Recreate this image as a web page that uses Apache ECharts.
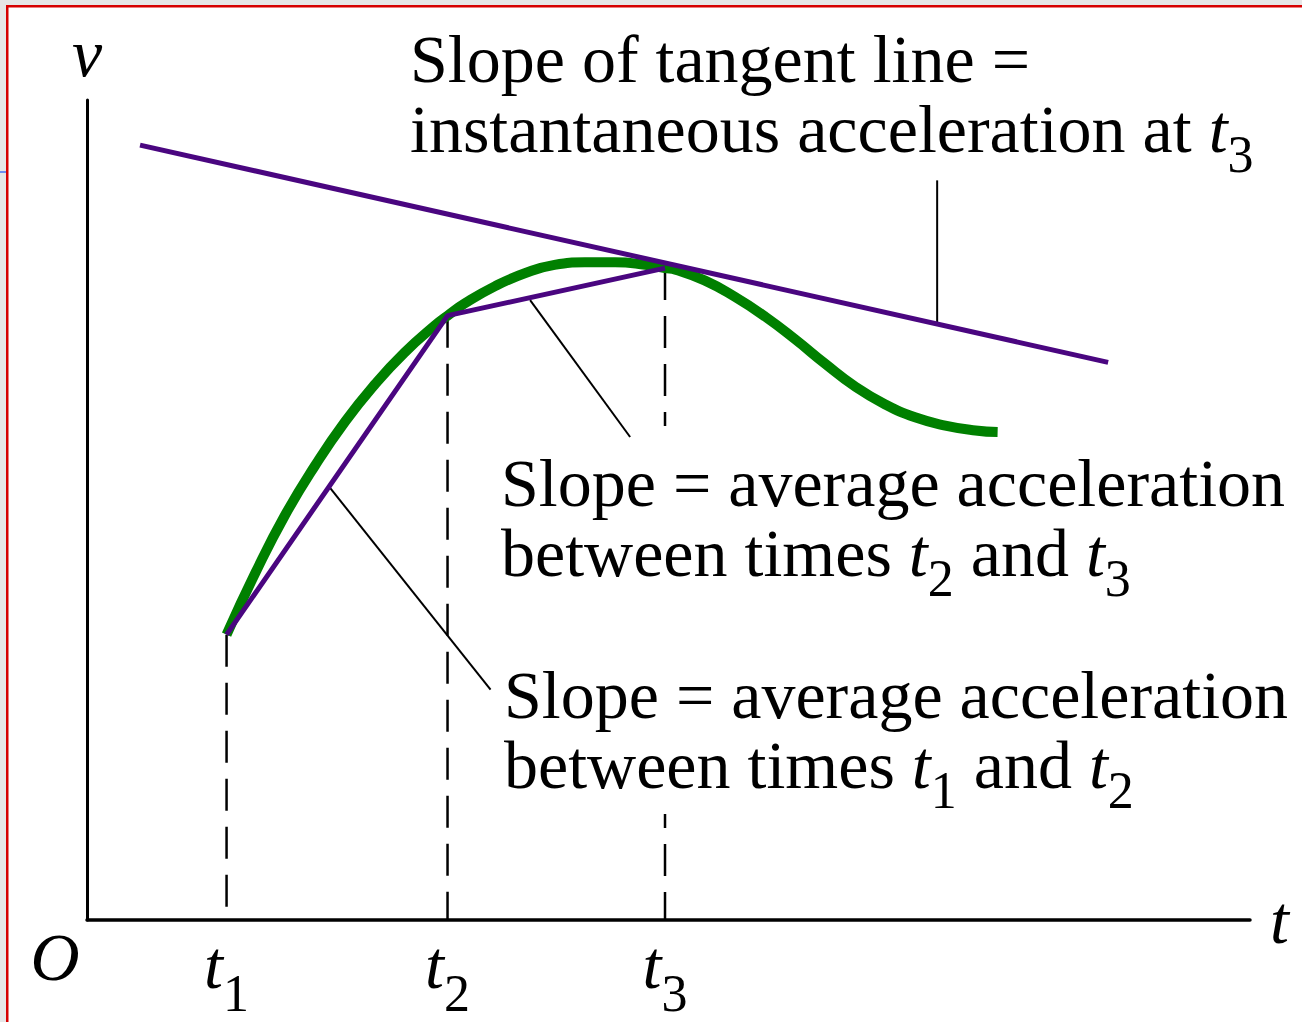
<!DOCTYPE html>
<html>
<head>
<meta charset="utf-8">
<script src="https://cdn.jsdelivr.net/npm/echarts@6/dist/echarts.min.js"></script>
<style>
  html, body { margin: 0; padding: 0; background: #fff; }
  #chart { width: 1302px; height: 1022px; }
</style>
</head>
<body>
<div id="chart"></div>
<script>
// Velocity v(t) sampled along the curve
const curveT = [1.2, 1.45, 1.7, 1.96, 2.22, 2.48, 2.73, 2.99, 3.1, 3.25, 3.51, 3.77, 4.02, 4.28,
                4.54, 4.8, 4.97, 5.06, 5.31, 5.57, 5.83, 6.09, 6.35, 6.6, 6.86, 7.12, 7.38, 7.64, 7.83];
const curveV = [3.48, 4.24, 4.93, 5.54, 6.08, 6.54, 6.92, 7.25, 7.37, 7.52, 7.73, 7.89, 7.99, 8.02,
                8.02, 7.99, 7.95, 7.93, 7.80, 7.60, 7.36, 7.08, 6.78, 6.51, 6.29, 6.13, 6.03, 5.97, 5.95];

// The three marked instants and the velocity at each
const markTimes = [1.2, 3.1, 4.97];
const markVel = [3.48, 7.37, 7.95];
const markSubs = ['1', '2', '3'];

// Tangent line to the curve at t3
const tangentT = [0.456, 8.78];
const tangentV = [9.45, 6.80];

// Leader lines joining each caption to the line it describes
const leaderTangent = [[7.31, 9.02], [7.31, 7.27]];
const leaderChord23 = [[3.81, 7.56], [4.67, 5.89]];
const leaderChord12 = [[2.09, 5.27], [3.47, 2.81]];

// Captions
const captionTangent = ['Slope of tangent line =', 'instantaneous acceleration at {it|t}{sb|3}'];
const captionChord23 = ['Slope = average acceleration', 'between times {it|t}{sb|2} and {it|t}{sb|3}'];
const captionChord12 = ['Slope = average acceleration', 'between times {it|t}{sb|1} and {it|t}{sb|2}'];

const SERIF = '"Liberation Serif", "Times New Roman", serif';
const FS = 68;
const LH = 70;
const SUB_FS = 52;
const GREEN = '#008000';
const PURPLE = '#4a0680';

const captionRich = {
  it: { fontFamily: SERIF, fontSize: FS, fontStyle: 'italic', lineHeight: LH, fill: '#000' },
  sb: { fontFamily: SERIF, fontSize: SUB_FS, lineHeight: LH, height: 20, verticalAlign: 'bottom', fill: '#000' }
};

function captionEl(lines, x, y, pad, withBg) {
  return {
    type: 'text', x: x, y: y, z: 3,
    style: {
      text: lines.join('\n'),
      fontFamily: SERIF, fontSize: FS, lineHeight: LH, fill: '#000',
      align: 'left', verticalAlign: 'top',
      rich: captionRich,
      padding: pad,
      backgroundColor: withBg ? '#fff' : 'transparent'
    }
  };
}

const curveData = curveT.map((t, i) => [t, curveV[i]]);
const chordData = markTimes.map((t, i) => [t, markVel[i]]);
const tangentData = tangentT.map((t, i) => [t, tangentV[i]]);

const guideSeries = markTimes.map((t, i) => ({
  type: 'line', z: 2, silent: true, symbol: 'none',
  data: [[t, markVel[i]], [t, 0]],
  lineStyle: { color: '#000', width: 2.5, type: [32, 16] }
}));

const leaderSeries = [leaderTangent, leaderChord23, leaderChord12].map(d => ({
  type: 'line', z: 4, silent: true, symbol: 'none', data: d,
  lineStyle: { color: '#000', width: 2 }
}));

const chart = echarts.init(document.getElementById('chart'), null, { renderer: 'svg' });

chart.setOption({
  animation: false,
  backgroundColor: '#fff',
  grid: { left: 87, right: 52, top: 100, bottom: 102, containLabel: false, outerBoundsMode: 'none' },
  xAxis: {
    type: 'value', min: 0, max: 10,
    name: 't', nameLocation: 'end', nameGap: 20,
    nameTextStyle: { fontFamily: SERIF, fontSize: FS, fontStyle: 'italic', color: '#000', lineHeight: LH },
    axisLine: { show: true, onZero: false, lineStyle: { color: '#000', width: 3.5 } },
    axisTick: { show: false },
    splitLine: { show: false },
    axisLabel: {
      customValues: markTimes,
      margin: 15,
      formatter: function (v) {
        const i = markTimes.findIndex(m => Math.abs(m - v) < 1e-6);
        return i < 0 ? '' : '{it|t}{sb|' + markSubs[i] + '}';
      },
      rich: {
        it: { fontFamily: SERIF, fontSize: FS, fontStyle: 'italic', lineHeight: 60, color: '#000' },
        sb: { fontFamily: SERIF, fontSize: SUB_FS, lineHeight: 60, height: 4, verticalAlign: 'bottom', color: '#000' }
      }
    }
  },
  yAxis: {
    type: 'value', min: 0, max: 10,
    name: 'v', nameLocation: 'end', nameGap: 12,
    nameTextStyle: { fontFamily: SERIF, fontSize: FS, fontStyle: 'italic', color: '#000', lineHeight: LH },
    axisLine: { show: true, onZero: false, lineStyle: { color: '#000', width: 3 } },
    axisTick: { show: false },
    splitLine: { show: false },
    axisLabel: { show: false }
  },
  series: [
    ...guideSeries,
    ...leaderSeries,
    {
      type: 'line', name: 'v(t)', z: 5, silent: true, symbol: 'none',
      smooth: 0.5,
      data: curveData,
      lineStyle: { color: GREEN, width: 10, cap: 'butt' }
    },
    {
      type: 'line', name: 'chords', z: 6, silent: true, symbol: 'none',
      data: chordData,
      lineStyle: { color: PURPLE, width: 5 }
    },
    {
      type: 'line', name: 'tangent', z: 6, silent: true, symbol: 'none',
      data: tangentData,
      lineStyle: { color: PURPLE, width: 5 }
    }
  ],
  graphic: {
    elements: [
      // page frame
      { type: 'rect', z: 10, shape: { x: 0, y: 0, width: 6, height: 1022 }, style: { fill: '#e6e6e6' } },
      { type: 'rect', z: 10, shape: { x: 0, y: 0, width: 1302, height: 5 }, style: { fill: '#e6e6e6' } },
      { type: 'rect', z: 11, shape: { x: 6, y: 5, width: 2.5, height: 1017 }, style: { fill: '#d60000' } },
      { type: 'rect', z: 11, shape: { x: 6, y: 5, width: 1296, height: 2.5 }, style: { fill: '#d60000' } },
      { type: 'rect', z: 11, shape: { x: 0, y: 171, width: 6, height: 2 }, style: { fill: '#6d8ef0' } },
      // origin label
      {
        type: 'text', x: 55, y: 957, z: 3,
        style: { text: 'O', fontFamily: SERIF, fontSize: FS, fontStyle: 'italic', fill: '#000', align: 'center', verticalAlign: 'middle' }
      },
      captionEl(captionTangent, 410, 24, 0, false),
      captionEl(captionChord23, 493, 426, [22, 8, 70, 8], true),
      captionEl(captionChord12, 496, 654, [6, 8, 14, 8], true)
    ]
  }
});
</script>
</body>
</html>
